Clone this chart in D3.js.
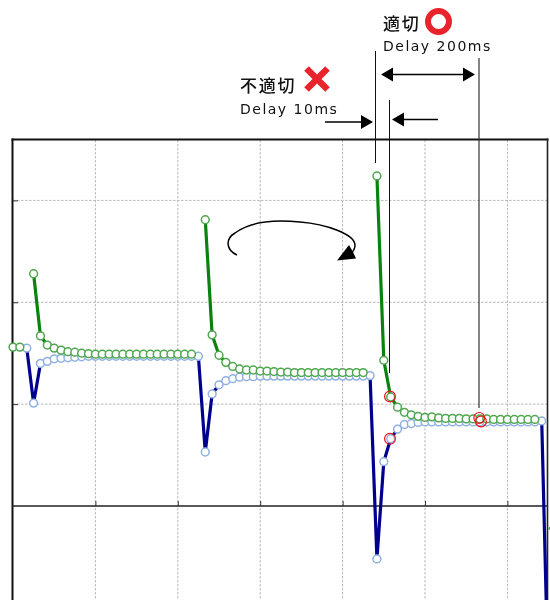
<!DOCTYPE html>
<html><head><meta charset="utf-8">
<style>html,body{margin:0;padding:0;background:#fff}svg{display:block;filter:blur(0.45px)}</style>
<script src="https://cdn.jsdelivr.net/npm/d3@7/dist/d3.min.js"></script>
</head><body><div id="c"></div>
<script>
const n = null;
const greenValues = [1.56,1.56,n,2.28,1.67,1.58,1.55,1.53,1.515,1.51,1.50,1.495,1.49,1.49,1.49,1.49,1.49,1.49,1.49,1.49,1.49,1.49,1.49,1.49,1.49,1.49,1.49,n,
 2.81,1.68,1.48,1.41,1.37,1.345,1.335,1.335,1.325,1.325,1.32,1.315,1.315,1.31,1.31,1.31,1.31,1.31,1.31,1.31,1.31,1.31,1.31,1.31,n,
 3.24,1.43,1.07,0.97,0.92,0.895,0.88,0.87,0.875,0.865,0.86,0.86,0.86,0.855,0.855,0.855,0.855,0.85,0.85,0.85,0.85,0.85,0.85,0.85];
const blueValues = [n,n,1.55,1.01,1.40,1.42,1.445,1.45,1.455,1.46,1.465,1.47,1.47,1.47,1.47,1.47,1.47,1.47,1.47,1.47,1.47,1.47,1.47,1.47,1.47,1.47,1.47,1.47,
 0.53,1.10,1.19,1.23,1.25,1.265,1.27,1.27,1.275,1.275,1.275,1.275,1.275,1.275,1.275,1.275,1.275,1.275,1.275,1.275,1.275,1.275,1.275,1.275,1.28,
 -0.52,0.435,0.66,0.755,0.80,0.81,0.82,0.825,0.825,0.825,0.825,0.825,0.825,0.825,0.825,0.825,0.825,0.825,0.825,0.825,0.825,0.825,0.825,0.825,0.835,-1.88];
const greenEdgePoint = [78.2,-0.22];
const xGridTicks = [12,24,36,48,60,72];
const yGridTicks = [1,2,3];
const redMarks = [[54.9,1.075],[54.9,0.66],[67.9,0.865],[68.15,0.83]];
const textGood = "適切", textBad = "不適切", delayGood = "Delay 200ms", delayBad = "Delay 10ms";

const W = 550, H = 600, R = 547.5;
const x = d3.scaleLinear().domain([0,72]).range([13,507.4]);
const y = d3.scaleLinear().domain([0,3]).range([506,200.4]);
const svg = d3.select("#c").append("svg").attr("width",W).attr("height",H);
const INK = "#111";

// grid
svg.append("g").selectAll("line").data(xGridTicks).join("line")
 .attr("x1",d=>x(d)).attr("x2",d=>x(d)).attr("y1",140).attr("y2",H)
 .attr("stroke","#b8b8b8").attr("stroke-width",1).attr("stroke-dasharray","2.5 1.5");
svg.append("g").selectAll("line").data(yGridTicks).join("line")
 .attr("x1",13).attr("x2",R).attr("y1",d=>y(d)).attr("y2",d=>y(d))
 .attr("stroke","#b8b8b8").attr("stroke-width",1).attr("stroke-dasharray","2.5 1.5");

// axes frame
svg.append("line").attr("x1",12.5).attr("x2",12.5).attr("y1",138.5).attr("y2",H).attr("stroke",INK).attr("stroke-width",2);
svg.append("line").attr("x1",11.5).attr("x2",R+1).attr("y1",139.5).attr("y2",139.5).attr("stroke",INK).attr("stroke-width",2);
svg.append("line").attr("x1",R).attr("x2",R).attr("y1",138.5).attr("y2",H).attr("stroke","#222").attr("stroke-width",1.6);
svg.append("line").attr("x1",12).attr("x2",R).attr("y1",y(0)).attr("y2",y(0)).attr("stroke","#222").attr("stroke-width",1.3);
svg.append("g").call(d3.axisBottom(x).tickValues(xGridTicks).tickSize(-5).tickFormat(""))
 .attr("transform",`translate(0,${y(0)})`).call(g=>{g.select(".domain").remove();g.selectAll("line").attr("stroke","#333")});
svg.append("g").call(d3.axisLeft(y).tickValues(yGridTicks).tickSize(-5).tickFormat(""))
 .attr("transform","translate(13,0)").call(g=>{g.select(".domain").remove();g.selectAll("line").attr("stroke","#333")});

// series
const line = d3.line().defined(d=>d!==null).x((d,i)=>x(i)).y(d=>y(d));
function series(vals,col,ring){
  svg.append("path").datum(vals).attr("d",line).attr("fill","none").attr("stroke",col).attr("stroke-width",3.2);
  svg.append("g").selectAll("circle").data(vals.map((v,i)=>[i,v]).filter(d=>d[1]!==null)).join("circle")
   .attr("cx",d=>x(d[0])).attr("cy",d=>y(d[1])).attr("r",3.9)
   .attr("fill","#fff").attr("stroke",ring).attr("stroke-width",1.5);
}
series(blueValues,"#00008f","#8fb0e0");
series(greenValues,"#0a820f","#4ea64e");
svg.append("circle").attr("cx",x(greenEdgePoint[0])).attr("cy",y(greenEdgePoint[1])).attr("r",1.4).attr("fill","#2fa82f");

// red rings
svg.append("g").selectAll("circle").data(redMarks).join("circle")
 .attr("cx",d=>x(d[0])).attr("cy",d=>y(d[1])).attr("r",5.4)
 .attr("fill","none").attr("stroke","#f0141e").attr("stroke-width",1.2);

// annotation lines
const rule=(xp,a,b,c="#111",w=1)=>svg.append("line").attr("x1",xp).attr("x2",xp).attr("y1",a).attr("y2",b).attr("stroke",c).attr("stroke-width",w);
rule(375.5,51,163); rule(389.5,100,373); rule(479,58,408,"#333",1.2);
const arrowHead=(tx,ty,dir,l=12,h=7)=>svg.append("path").attr("d",`M${tx},${ty}L${tx-dir*l},${ty-h}L${tx-dir*l},${ty+h}Z`).attr("fill","#000");
const hl=(a,b,yy)=>svg.append("line").attr("x1",a).attr("x2",b).attr("y1",yy).attr("y2",yy).attr("stroke","#000").attr("stroke-width",1.4);
hl(385,470,74.5); arrowHead(381,74.5,-1); arrowHead(475,74.5,1);
hl(325,365,122); arrowHead(373,122,1);
hl(400,438,119.5); arrowHead(392,119.5,-1);

// curved arrow
svg.append("path").attr("d","M237,255C226,250 225,239 235,233C252,220 280,220 300,222C325,224 356,234 355,246C354.500,250 352,253 349,255")
 .attr("fill","none").attr("stroke","#000").attr("stroke-width",1.5);
svg.append("path").attr("d","M337,260.500L349,245L353,252L356,258.500Z").attr("fill","#000");

// text
const cjk='"Noto Sans CJK JP","Noto Sans CJK SC",sans-serif';
const txt=(s,xp,yp,fs,sp,ff,wt)=>svg.append("text").attr("x",xp).attr("y",yp).text(s).attr("font-family",ff).attr("font-size",fs).attr("letter-spacing",sp).attr("font-weight",wt).attr("fill","#111");
txt(textGood,383,30,17,1.8,cjk,500);
txt(delayGood,383,51,14,1.5,'"DejaVu Sans",sans-serif',400);
txt(textBad,240,92,17,1.8,cjk,500);
txt(delayBad,240,114,14,1.5,'"DejaVu Sans",sans-serif',400);
svg.append("circle").attr("cx",438.500).attr("cy",21.500).attr("r",10.500).attr("fill","none").attr("stroke","#e8232b").attr("stroke-width",6);
svg.append("path").attr("d","M306.500,68.500L327.500,89.500M327.500,68.500L306.500,89.500").attr("stroke","#e8232b").attr("stroke-width",6.500).attr("fill","none");
</script></body></html>
